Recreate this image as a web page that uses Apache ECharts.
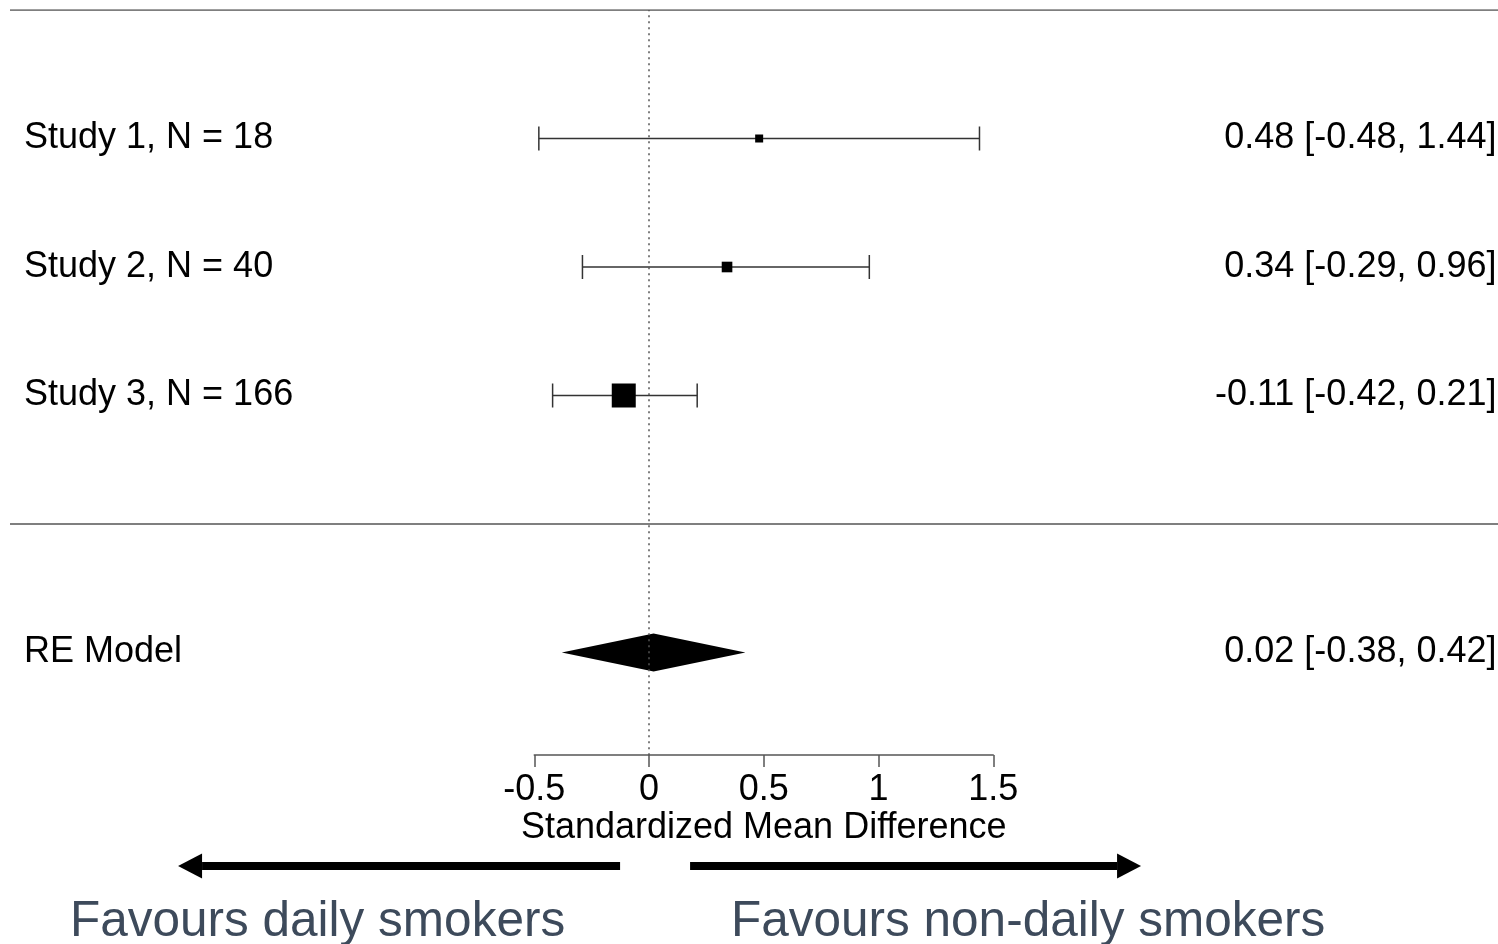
<!DOCTYPE html>
<html>
<head>
<meta charset="utf-8">
<script src="https://cdn.jsdelivr.net/npm/echarts@6/dist/echarts.min.js"></script>
<style>
html,body{margin:0;padding:0;background:#fff;}
#chart{width:1498px;height:944px;}
</style>
</head>
<body>
<div id="chart"></div>
<script>
// ---- data ----
const studyLabels = ['Study 1, N = 18', 'Study 2, N = 40', 'Study 3, N = 166'];
const estimates = [0.48, 0.34, -0.11];
const ciLower = [-0.48, -0.29, -0.42];
const ciUpper = [1.44, 0.96, 0.21];
const studyRows = [3, 2, 1];
const modelLabel = 'RE Model';
const modelEstimate = 0.02;
const modelLower = -0.38;
const modelUpper = 0.42;
const modelRow = -1;
const xTicks = [-0.5, 0, 0.5, 1, 1.5];
const axisTitle = 'Standardized Mean Difference';
const favourLabels = ['Favours daily smokers', 'Favours non-daily smokers'];

// ---- layout constants ----
const FONT = 'Liberation Sans, Arial, sans-serif';
const PX_PER_UNIT = 229.5;   // horizontal scale
const ZERO_PX = 649;         // pixel of x = 0
const ROW_PX = 128.5;        // pixels per row
const GRID_LEFT = 10, GRID_TOP = 10, H = 944, W = 1498;
const XMIN = (GRID_LEFT - ZERO_PX) / PX_PER_UNIT;
const XMAX = (W - ZERO_PX) / PX_PER_UNIT;
const YMAX = 4;
const YMIN = YMAX - (H - GRID_TOP) / ROW_PX;
const AXIS_ROW = -1.8;
const ARROW_ROW = YMAX - (866 - GRID_TOP) / ROW_PX;

function fmt(v) { return v.toFixed(2); }

// inverse-variance based square sizes
const variances = ciLower.map((lo, i) => Math.pow((ciUpper[i] - lo) / 3.92, 2));
const invVar = variances.map(v => 1 / v);
const wMin = Math.min(...invVar), wMax = Math.max(...invVar);
const sizes = invVar.map(w => 8 + (w - wMin) / (wMax - wMin) * 16);

const studyData = estimates.map((e, i) => [e, ciLower[i], ciUpper[i], studyRows[i], sizes[i]]);

const labelData = studyLabels.map((s, i) => ({ left: s, right: fmt(estimates[i]) + ' [' + fmt(ciLower[i]) + ', ' + fmt(ciUpper[i]) + ']', row: studyRows[i] }));
labelData.push({ left: modelLabel, right: fmt(modelEstimate) + ' [' + fmt(modelLower) + ', ' + fmt(modelUpper) + ']', row: modelRow });

const chart = echarts.init(document.getElementById('chart'), null, { renderer: 'canvas' });

const option = {
  animation: false,
  backgroundColor: '#ffffff',
  grid: [
    { left: GRID_LEFT, top: GRID_TOP, width: W - GRID_LEFT, height: H - GRID_TOP },
    { left: ZERO_PX + xTicks[0] * PX_PER_UNIT, width: (xTicks[xTicks.length - 1] - xTicks[0]) * PX_PER_UNIT, top: 745, height: 10 }
  ],
  xAxis: [
    { type: 'value', gridIndex: 0, min: XMIN, max: XMAX, show: false },
    {
      type: 'value', gridIndex: 1, min: xTicks[0], max: xTicks[xTicks.length - 1], interval: 0.5,
      position: 'bottom',
      axisLine: { show: true, lineStyle: { color: '#555', width: 1.5 } },
      axisTick: { show: true, length: 12, lineStyle: { color: '#555', width: 1.5 } },
      axisLabel: { show: true, margin: 17, color: '#000', fontSize: 36, fontFamily: FONT },
      splitLine: { show: false },
      name: axisTitle, nameLocation: 'middle', nameGap: 55,
      nameTextStyle: { color: '#000', fontSize: 36, fontFamily: FONT }
    }
  ],
  yAxis: [
    { type: 'value', gridIndex: 0, min: YMIN, max: YMAX, show: false },
    { type: 'value', gridIndex: 1, min: 0, max: 1, show: false }
  ],
  series: [
    { // horizontal rules
      type: 'line', xAxisIndex: 0, yAxisIndex: 0, symbol: 'none', silent: true,
      lineStyle: { color: '#555', width: 1.6 },
      data: [[XMIN, YMAX], [XMAX, YMAX], [null, null], [XMIN, 0], [XMAX, 0]],
      connectNulls: false
    },
    { // reference line at 0
      type: 'line', xAxisIndex: 0, yAxisIndex: 0, symbol: 'none', silent: true,
      lineStyle: { color: '#555', width: 1.5, type: [2, 4] },
      data: [[0, AXIS_ROW], [0, YMAX]]
    },
    { // study CIs + squares
      type: 'custom', xAxisIndex: 0, yAxisIndex: 0, silent: true,
      data: studyData,
      renderItem: function (params, api) {
        const est = api.value(0), lo = api.value(1), hi = api.value(2), row = api.value(3), sz = api.value(4);
        const pl = api.coord([lo, row]), ph = api.coord([hi, row]), pe = api.coord([est, row]);
        const ls = { stroke: '#333', lineWidth: 1.5 };
        return {
          type: 'group',
          children: [
            { type: 'line', shape: { x1: pl[0], y1: pl[1], x2: ph[0], y2: ph[1] }, style: ls },
            { type: 'line', shape: { x1: pl[0], y1: pl[1] - 12, x2: pl[0], y2: pl[1] + 12 }, style: ls },
            { type: 'line', shape: { x1: ph[0], y1: ph[1] - 12, x2: ph[0], y2: ph[1] + 12 }, style: ls },
            { type: 'rect', shape: { x: pe[0] - sz / 2, y: pe[1] - sz / 2, width: sz, height: sz }, style: { fill: '#000' } }
          ]
        };
      }
    },
    { // RE diamond
      type: 'custom', xAxisIndex: 0, yAxisIndex: 0, silent: true,
      data: [[modelEstimate, modelLower, modelUpper, modelRow]],
      renderItem: function (params, api) {
        const est = api.value(0), lo = api.value(1), hi = api.value(2), row = api.value(3);
        const pl = api.coord([lo, row]), ph = api.coord([hi, row]), pe = api.coord([est, row]);
        return {
          type: 'polygon',
          shape: { points: [[pl[0], pl[1]], [pe[0], pe[1] - 19], [ph[0], ph[1]], [pe[0], pe[1] + 19]] },
          style: { fill: '#000' }
        };
      }
    },
    { // row labels left and right
      type: 'custom', xAxisIndex: 0, yAxisIndex: 0, silent: true,
      data: labelData.map(d => [d.row]),
      renderItem: function (params, api) {
        const d = labelData[params.dataIndex];
        const pl = api.coord([XMIN, d.row]), pr = api.coord([XMAX, d.row]);
        return {
          type: 'group',
          children: [
            { type: 'text', x: pl[0] + 14, y: pl[1], style: { text: d.left, fill: '#000', font: '36px ' + FONT, textAlign: 'left', textVerticalAlign: 'middle' } },
            { type: 'text', x: pr[0] - 1.5, y: pr[1], style: { text: d.right, fill: '#000', font: '36px ' + FONT, textAlign: 'right', textVerticalAlign: 'middle' } }
          ]
        };
      }
    },
    { // direction arrows
      type: 'custom', xAxisIndex: 0, yAxisIndex: 0, silent: true,
      data: [[-0.126, -2.052, ARROW_ROW], [0.179, 2.144, ARROW_ROW]],
      renderItem: function (params, api) {
        const tail = api.coord([api.value(0), api.value(2)]);
        const tip = api.coord([api.value(1), api.value(2)]);
        const dir = tip[0] > tail[0] ? 1 : -1;
        const y = tail[1];
        const base = tip[0] - dir * 24;
        return {
          type: 'group',
          children: [
            { type: 'rect', shape: { x: Math.min(tail[0], base), y: y - 4, width: Math.abs(base - tail[0]), height: 8 }, style: { fill: '#000' } },
            { type: 'polygon', shape: { points: [[base, y - 12.5], [tip[0], y], [base, y + 12.5]] }, style: { fill: '#000' } }
          ]
        };
      }
    }
  ],
  graphic: [
    { type: 'text', left: 70, top: 897, style: { text: favourLabels[0], fill: '#3d4a5b', font: '49.5px ' + FONT } },
    { type: 'text', left: 731, top: 897, style: { text: favourLabels[1], fill: '#3d4a5b', font: '49.5px ' + FONT } }
  ]
};

chart.setOption(option);
</script>
</body>
</html>
